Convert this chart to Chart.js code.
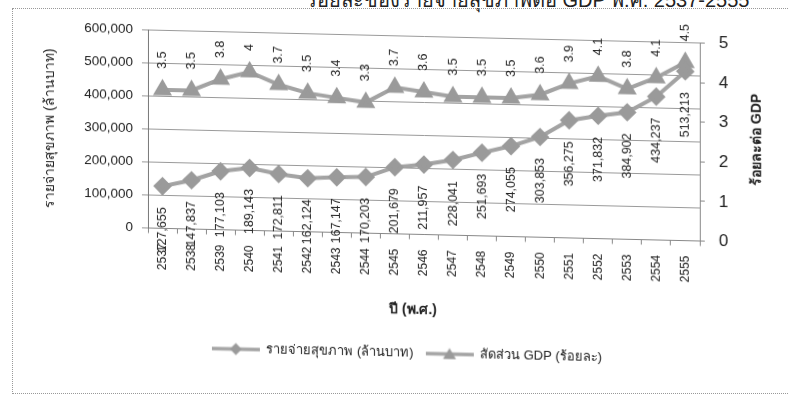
<!DOCTYPE html>
<html>
<head>
<meta charset="utf-8">
<script src="https://cdn.jsdelivr.net/npm/chart.js@4.4.0/dist/chart.umd.min.js"></script>
<style>
  html, body { margin: 0; padding: 0; background: #fff; width: 789px; height: 412px; overflow: hidden; }
  #frame { position: absolute; left: 12px; top: 8px; width: 800px; height: 386px; border: 1px dotted #999; box-sizing: border-box; }
  #wrap { position: absolute; left: 0; top: 0; width: 814px; height: 412px; transform: skewY(1.35deg); transform-origin: 424px 0; }
  #head { position: absolute; top: -16px; left: 306px; font: 20px 'Liberation Sans', sans-serif; color: #222; white-space: nowrap; }
</style>
</head>
<body>
<div id="frame"></div>
<div id="head">ร้อยละของรายจ่ายสุขภาพต่อ GDP พ.ศ. 2537-2555</div>
<div id="wrap"><canvas id="healthChart" width="814" height="412"></canvas></div>
<script>
const years = ['2537', '2538', '2539', '2540', '2541', '2542', '2543', '2544', '2545', '2546',
               '2547', '2548', '2549', '2550', '2551', '2552', '2553', '2554', '2555'];
const spending = [127655, 147837, 177103, 189143, 172811, 162124, 167147, 170203, 201679, 211957,
                  228041, 251693, 274055, 303853, 356275, 371832, 384902, 434237, 513213];
const gdpShare = [3.5, 3.5, 3.8, 4, 3.7, 3.5, 3.4, 3.3, 3.7, 3.6,
                  3.5, 3.5, 3.5, 3.6, 3.9, 4.1, 3.8, 4.1, 4.5];
const seriesNames = ['รายจ่ายสุขภาพ (ล้านบาท)', 'สัดส่วน GDP (ร้อยละ)'];

const font = "'Liberation Sans', sans-serif";
const grey = '#a3a3a3';

// little line + marker pictures for the legend
function legendSym(style) {
  const c = document.createElement('canvas');
  c.width = 48; c.height = 16;
  const g = c.getContext('2d');
  g.strokeStyle = grey; g.lineWidth = 3.5;
  g.beginPath(); g.moveTo(0, 8); g.lineTo(48, 8); g.stroke();
  g.fillStyle = '#9a9a9a';
  g.beginPath();
  if (style === 'diamond') {
    g.moveTo(24, 2); g.lineTo(30, 8); g.lineTo(24, 14); g.lineTo(18, 8);
  } else {
    g.moveTo(24, 2); g.lineTo(30.5, 13); g.lineTo(17.5, 13);
  }
  g.closePath(); g.fill();
  return c;
}
const syms = [legendSym('diamond'), legendSym('triangle')];

const valueLabels = {
  id: 'valueLabels',
  afterDatasetsDraw(chart) {
    const ctx = chart.ctx;
    chart.data.datasets.forEach((ds, di) => {
      chart.getDatasetMeta(di).data.forEach((pt, i) => {
        ctx.save();
        ctx.translate(pt.x, di === 0 ? pt.y + 21 : pt.y - 21);
        ctx.rotate(-Math.PI / 2);
        ctx.font = '12.5px ' + font;
        ctx.fillStyle = '#222';
        ctx.textAlign = di === 0 ? 'right' : 'left';
        ctx.textBaseline = 'middle';
        ctx.fillText(di === 0 ? ds.data[i].toLocaleString('en-US') : String(ds.data[i]), 0, 0);
        ctx.restore();
      });
    });
  }
};

const axisTitles = {
  id: 'axisTitles',
  afterDraw(chart) {
    const ctx = chart.ctx;
    ctx.save();
    ctx.fillStyle = '#222';
    ctx.textAlign = 'center';
    ctx.textBaseline = 'middle';
    ctx.font = '14px ' + font;
    ctx.save(); ctx.translate(50, 137); ctx.rotate(-Math.PI / 2);
    ctx.fillText('รายจ่ายสุขภาพ (ล้านบาท)', 0, 0); ctx.restore();
    ctx.font = 'bold 14px ' + font;
    ctx.save(); ctx.translate(757, 132); ctx.rotate(-Math.PI / 2);
    ctx.fillText('ร้อยละต่อ GDP', 0, 0); ctx.restore();
    ctx.fillText('ปี (พ.ศ.)', 413, 310);
    ctx.restore();
  }
};

const padBottom = 42;

new Chart(document.getElementById('healthChart'), {
  type: 'line',
  data: {
    labels: years,
    datasets: [{
      label: seriesNames[0],
      data: spending,
      yAxisID: 'y',
      borderColor: grey,
      borderWidth: 4,
      pointStyle: 'rectRot',
      pointRadius: 6.5,
      pointBackgroundColor: '#9a9a9a',
      pointBorderColor: '#9a9a9a',
      tension: 0
    }, {
      label: seriesNames[1],
      data: gdpShare,
      yAxisID: 'y1',
      borderColor: grey,
      borderWidth: 4,
      pointStyle: 'triangle',
      pointRadius: 7,
      pointBackgroundColor: '#9a9a9a',
      pointBorderColor: '#9a9a9a',
      tension: 0
    }]
  },
  options: {
    responsive: false,
    animation: false,
    layout: { padding: { top: 36.5, left: 0, right: 0, bottom: padBottom } },
    scales: {
      x: {
        type: 'category',
        offset: true,
        grid: { offset: true, drawOnChartArea: false, tickLength: 5, color: '#888' },
        border: { color: '#888' },
        ticks: { minRotation: 90, maxRotation: 90, padding: 10, color: '#222', font: { family: font, size: 12 } },
        afterFit: s => { s.height = 412 - 234.5 - s.chart.legend.height - padBottom; }
      },
      y: {
        position: 'left',
        min: 0,
        max: 600000,
        ticks: { stepSize: 100000, padding: 9, color: '#222', font: { family: font, size: 13.5 },
                 callback: v => v.toLocaleString('en-US') },
        grid: { color: '#9a9a9a', tickLength: 6 },
        border: { color: '#777' },
        afterFit: s => { s.width = 148; }
      },
      y1: {
        position: 'right',
        min: 0,
        max: 5,
        ticks: { stepSize: 1, padding: 14, color: '#222', font: { family: font, size: 17 } },
        grid: { drawOnChartArea: false, tickLength: 5, color: '#888' },
        border: { color: '#888' },
        afterFit: s => { s.width = 814 - 700; }
      }
    },
    plugins: {
      legend: {
        position: 'bottom',
        labels: {
          usePointStyle: true,
          pointStyleWidth: 48,
          padding: 12,
          color: '#222',
          font: { family: font, size: 13 },
          generateLabels: chart => Chart.defaults.plugins.legend.labels.generateLabels(chart)
            .map((it, i) => Object.assign(it, { pointStyle: syms[i] }))
        }
      },
      tooltip: { enabled: false }
    }
  },
  plugins: [valueLabels, axisTitles]
});
</script>
</body>
</html>
